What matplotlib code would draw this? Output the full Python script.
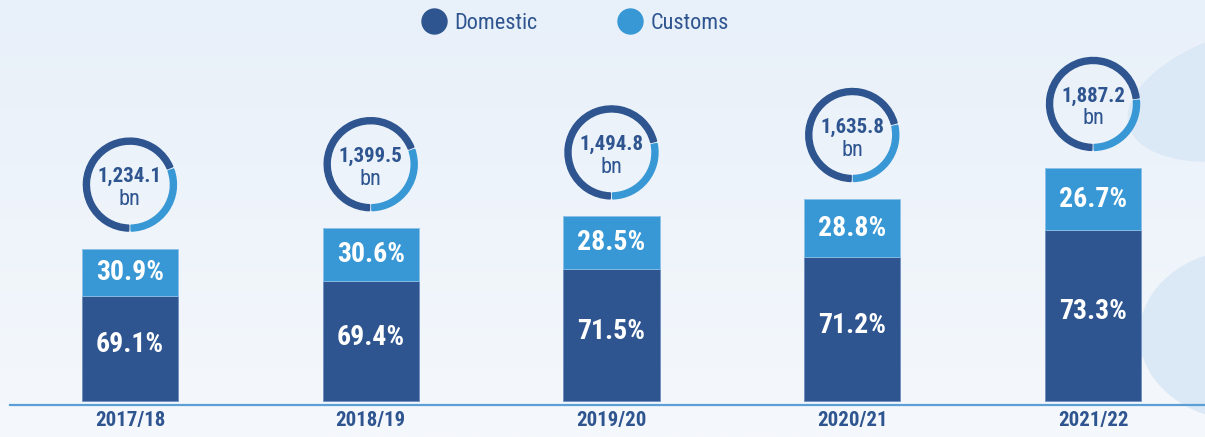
import numpy as np
import matplotlib
matplotlib.use("Agg")
import matplotlib.pyplot as plt
import matplotlib.transforms as mtransforms
from matplotlib.patches import Wedge, Ellipse
from matplotlib.lines import Line2D
from matplotlib import font_manager

years = ["2017/18", "2018/19", "2019/20", "2020/21", "2021/22"]
totals = [1234.1, 1399.5, 1494.8, 1635.8, 1887.2]
domestic_pct = [69.1, 69.4, 71.5, 71.2, 73.3]
customs_pct = [30.9, 30.6, 28.5, 28.8, 26.7]

DARK = "#2e5590"
LIGHT = "#3898d5"
TEXT = "#2e5590"

names = {f.name for f in font_manager.fontManager.ttflist}
fams = [n for n in ["Roboto Condensed", "Liberation Sans Narrow", "Roboto"] if n in names]
plt.rcParams["font.family"] = fams + ["DejaVu Sans"]
condensed = fams[0] != "Roboto"

W, H = 1205, 437
fig = plt.figure(figsize=(W / 100, H / 100), dpi=100)

# background with soft gradient and decorative blobs
bg = fig.add_axes([0, 0, 1, 1], zorder=-5)
grad = np.linspace(0, 1, 256).reshape(-1, 1)
cmap = matplotlib.colors.LinearSegmentedColormap.from_list("bg", ["#e8f0f9", "#f5f8fc"])
bg.imshow(grad, aspect="auto", cmap=cmap, extent=[0, W, H, 0])
bg.add_patch(Ellipse((1255, 92), 260, 125, angle=-15, color="#dbe8f5"))
bg.add_patch(Ellipse((1245, 335), 210, 170, angle=0, color="#dbe8f5"))
bg.set_xlim(0, W)
bg.set_ylim(H, 0)
bg.axis("off")

ax = fig.add_axes([10 / W, 32 / H, 1 - 10 / W, 1 - 32 / H])
ax.patch.set_alpha(0)
x = np.arange(len(years))
dom_vals = [t * d / 100 for t, d in zip(totals, domestic_pct)]
cus_vals = [t * c / 100 for t, c in zip(totals, customs_pct)]
ax.bar(x, dom_vals, width=0.4, color=DARK, edgecolor="#6f8fbf", linewidth=0.6)
ax.bar(x, cus_vals, bottom=dom_vals, width=0.4, color=LIGHT, edgecolor="#8cc0e6", linewidth=0.6)

ax.set_xlim(-0.498, 4.465)
ax.set_ylim(-32, 3247)
for s in ["top", "right", "left"]:
    ax.spines[s].set_visible(False)
ax.spines["bottom"].set_color("#5b9fd6")
ax.spines["bottom"].set_linewidth(1.6)
ax.set_yticks([])
ax.set_xticks(x)
ax.set_xticklabels(years, fontsize=15 if condensed else 14, fontweight="bold", color=TEXT)
ax.tick_params(axis="x", length=0, pad=4)

pct_size = 20 if condensed else 18
tot_size = 15 if condensed else 13
for i in range(len(years)):
    ax.text(i, dom_vals[i] / 2 + 30, f"{domestic_pct[i]:.1f}%", ha="center", va="center",
            color="white", fontsize=pct_size, fontweight="bold")
    ax.text(i, dom_vals[i] + cus_vals[i] / 2, f"{customs_pct[i]:.1f}%", ha="center", va="center",
            color="white", fontsize=pct_size, fontweight="bold")

    # ring above bar, in pixel units
    tr = fig.dpi_scale_trans + mtransforms.ScaledTranslation(i, totals[i], ax.transData)
    cy = 0.64
    r = 0.465
    ang = 360 * domestic_pct[i] / 100
    end = 270 - ang
    gap = 1.5
    ax.add_patch(Wedge((0, cy), r, end + gap, 270 - gap, width=0.06,
                       color=DARK, transform=tr, clip_on=False))
    ax.add_patch(Wedge((0, cy), r, -90 + gap, end - gap, width=0.06,
                       color=LIGHT, transform=tr, clip_on=False))
    ax.annotate(f"{totals[i]:,.1f}", (i, totals[i]), xytext=(0, (64 + 8) * 0.72),
                textcoords="offset points", ha="center", va="center",
                fontsize=tot_size, fontweight="bold", color=TEXT)
    ax.annotate("bn", (i, totals[i]), xytext=(0, (64 - 15) * 0.72),
                textcoords="offset points", ha="center", va="center",
                fontsize=tot_size + 1, color=TEXT)

handles = [Line2D([], [], marker="o", linestyle="", markersize=18, color=DARK),
           Line2D([], [], marker="o", linestyle="", markersize=18, color=LIGHT)]
fig.legend(handles, ["Domestic", "Customs"], loc="center", bbox_to_anchor=(0.477, 0.947),
           ncol=2, frameon=False, fontsize=16 if condensed else 15, labelcolor=TEXT,
           handletextpad=0.3, columnspacing=3.6 if condensed else 3.2, handlelength=1.2)

fig.savefig("out.png", dpi=100)
